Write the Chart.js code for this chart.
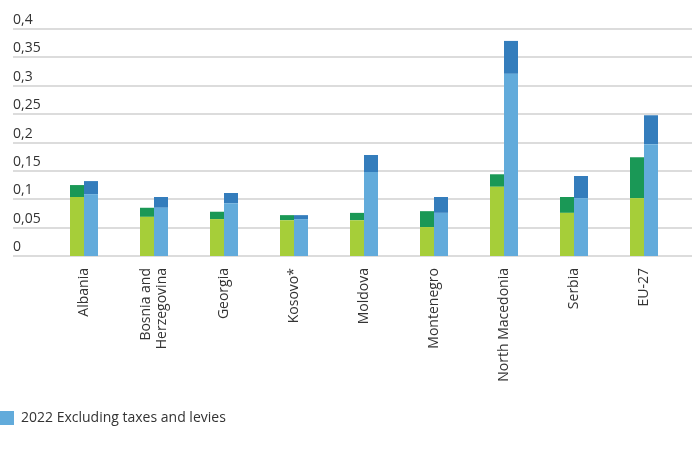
<!DOCTYPE html>
<html>
<head>
<meta charset="utf-8">
<script src="https://cdn.jsdelivr.net/npm/chart.js@4"></script>
<style>
  html, body { margin: 0; padding: 0; background: #fff; }
  #wrap { width: 696px; height: 452px; }
</style>
</head>
<body>
<div id="wrap"><canvas id="chart"></canvas></div>
<script>
// --- data ---
const countries = ['Albania', ['Bosnia and', 'Herzegovina'], 'Georgia', 'Kosovo*', 'Moldova',
    'Montenegro', 'North Macedonia', 'Serbia', 'EU-27'];
const excl2021 = [0.104, 0.069, 0.065, 0.063, 0.063, 0.051, 0.122, 0.076, 0.102];
const taxes2021 = [0.021, 0.016, 0.013, 0.009, 0.013, 0.028, 0.022, 0.028, 0.072];
const excl2022 = [0.109, 0.085, 0.093, 0.065, 0.148, 0.076, 0.321, 0.102, 0.197];
const taxes2022 = [0.023, 0.019, 0.018, 0.007, 0.030, 0.028, 0.058, 0.039, 0.051];
const yTicks = [0, 0.05, 0.1, 0.15, 0.2, 0.25, 0.3, 0.35, 0.4];

const FONT = "'Open Sans', sans-serif";
const TEXT = '#333333';

// gridlines + y labels run past the plot area, so draw them from the y scale
const gridPlugin = {
    id: 'grid',
    beforeDraw(chart) {
        // centre two-line x labels on their tick
        chart.scales.x.getLabelItems().forEach(item => {
            if (Array.isArray(item.label) && !item._moved) {
                item.options.translation[0] -= (item.label.length - 1) * item.font.lineHeight / 2;
                item._moved = true;
            }
        });
    },
    beforeDatasetsDraw(chart) {
        const y = chart.scales.y;
        const ctx = chart.ctx;
        ctx.save();
        ctx.strokeStyle = '#dcdcdc';
        ctx.lineWidth = 2;
        ctx.fillStyle = TEXT;
        ctx.font = '14px ' + FONT;
        ctx.textAlign = 'left';
        ctx.textBaseline = 'alphabetic';
        yTicks.forEach(v => {
            const py = Math.round(y.getPixelForValue(v));
            ctx.beginPath();
            ctx.moveTo(13, py);
            ctx.lineTo(692, py);
            ctx.stroke();
            ctx.fillText(String(v).replace('.', ','), 13, py - 5);
        });
        ctx.restore();
    }
};

new Chart(document.getElementById('chart'), {
    type: 'bar',
    data: {
        labels: countries,
        datasets: [
            { label: '2021 Excluding taxes and levies', data: excl2021, backgroundColor: '#a6ce39', stack: 'a' },
            { label: '2021 Taxes and levies', data: taxes2021, backgroundColor: '#1a9856', stack: 'a' },
            { label: '2022 Excluding taxes and levies', data: excl2022, backgroundColor: '#62abdb', stack: 'b' },
            { label: '2022 Taxes and levies', data: taxes2022, backgroundColor: '#347dbc', stack: 'b' }
        ]
    },
    options: {
        responsive: true,
        maintainAspectRatio: false,
        animation: false,
        datasets: { bar: { categoryPercentage: 0.4, barPercentage: 1, borderWidth: 0 } },
        layout: { padding: { top: 29, left: 0, right: 17, bottom: 17 } },
        plugins: {
            tooltip: { enabled: false },
            legend: {
                position: 'bottom',
                align: 'start',
                labels: {
                    filter: item => item.datasetIndex === 2,
                    boxWidth: 14, boxHeight: 14, padding: 0,
                    color: TEXT, font: { family: FONT, size: 14 }
                }
            }
        },
        scales: {
            x: {
                stacked: true,
                grid: { display: false, drawTicks: false },
                border: { display: false },
                ticks: {
                    autoSkip: false, minRotation: 90, maxRotation: 90, padding: 12,
                    color: TEXT, font: { family: FONT, size: 14 }
                },
                afterFit: s => { s.height = 155; }
            },
            y: {
                stacked: true,
                min: 0, max: 0.4,
                grid: { display: false, drawTicks: false },
                border: { display: false },
                ticks: { display: false, stepSize: 0.05 },
                afterFit: s => { s.width = 49; }
            }
        }
    },
    plugins: [gridPlugin]
});
</script>
</body>
</html>
